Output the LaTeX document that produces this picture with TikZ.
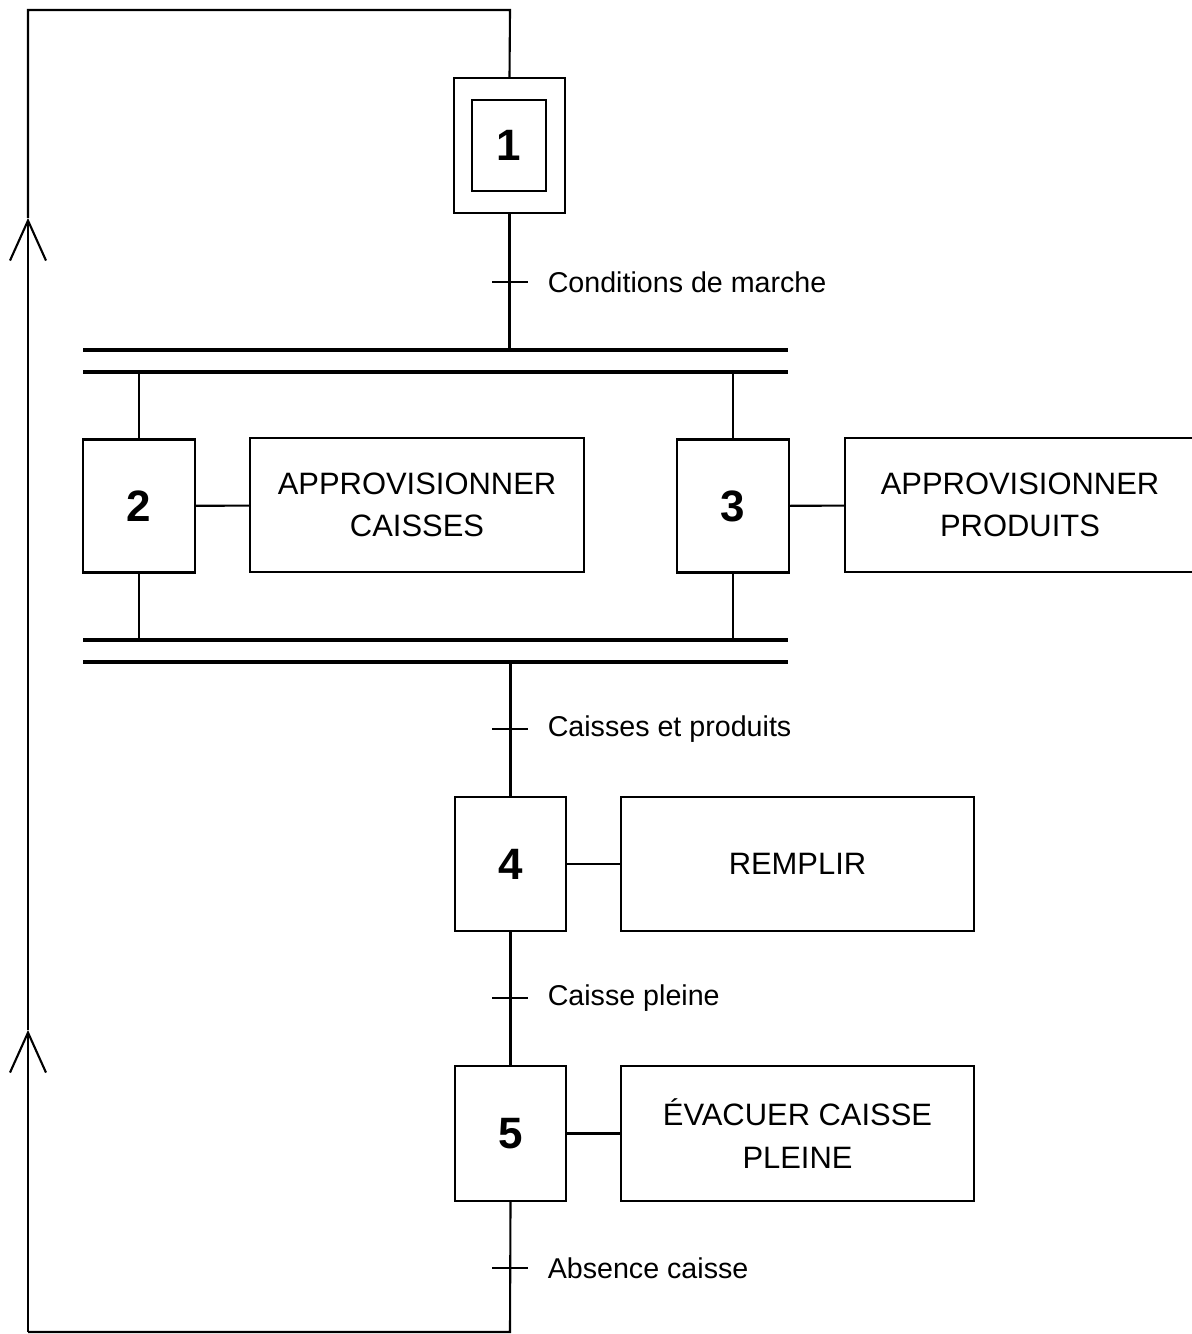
\documentclass[tikz,border=0pt]{standalone}
\usepackage{fontspec}
\setmainfont{Liberation Sans}
\usetikzlibrary{arrows.meta}

\begin{document}
\begin{tikzpicture}[line width=0.6pt,
    etape/.style={draw, minimum width=1.12cm, minimum height=1.33cm, font=\fontsize{12.5}{14}\selectfont\bfseries},
    action/.style={draw, minimum width=3.34cm, minimum height=1.34cm, align=center, font=\fontsize{8.8}{12}\selectfont},
    recept/.style={right=0.25cm, font=\fontsize{8.15}{10}\selectfont},
    fleche/.style={-{Straight Barb[length=4mm, width=3.6mm, line width=0.6pt]}}]

    \useasboundingbox (0,0) rectangle (11.91,-13.34);

    % ==========================================
    % Initial step 1
    % ==========================================
    \node[draw, minimum width=1.11cm, minimum height=1.35cm] (e1) at (5.095,-1.455) {};
    \node[draw, minimum width=0.74cm, minimum height=0.91cm, font=\fontsize{12.5}{14}\selectfont\bfseries] (e1in) at (5.09,-1.455) {1};

    % Transition 1
    \coordinate (t1) at (5.10,-2.82);
    \draw (t1) +(-0.18,0) -- +(0.18,0);
    \node[recept, anchor=west] at (t1) {Conditions de marche};

    % ==========================================
    % Simultaneous branches (double lines)
    % ==========================================
    \coordinate (divA) at (0.83,-3.50);
    \coordinate (divB) at (0.83,-3.72);
    \coordinate (convA) at (0.83,-6.40);
    \coordinate (convB) at (0.83,-6.62);
    \foreach \c in {divA, divB, convA, convB}
        \draw[line width=0.9pt] (\c) -- ++(7.05,0);

    % Step 2 and its action
    \node[etape] (e2) at (1.39,-5.06) {2};
    \node[action] (a2) at (4.17,-5.05) {APPROVISIONNER\\CAISSES};
    \draw (e2) -- (a2);

    % Step 3 and its action
    \node[etape] (e3) at (7.33,-5.06) {3};
    \node[action, minimum width=3.5cm] (a3) at (10.20,-5.05) {APPROVISIONNER\\PRODUITS};
    \draw (e3) -- (a3);

    % Branch links
    \draw (e1.south) -- (e1.south |- divA);
    \draw (e2.north) -- (e2.north |- divB);
    \draw (e3.north) -- (e3.north |- divB);
    \draw (e2.south) -- (e2.south |- convA);
    \draw (e3.south) -- (e3.south |- convA);

    % Transition 2
    \coordinate (t2) at (5.10,-7.29);
    \draw (t2) +(-0.18,0) -- +(0.18,0);
    \node[recept, anchor=west] at (t2) {Caisses et produits};

    % ==========================================
    % Steps 4 and 5
    % ==========================================
    \node[etape, minimum width=1.11cm, minimum height=1.34cm] (e4) at (5.105,-8.64) {4};
    \node[action, minimum width=3.53cm] (a4) at (7.975,-8.64) {REMPLIR};
    \draw (e4) -- (a4);
    \draw (e4.north |- convB) -- (e4.north);

    % Transition 3
    \coordinate (t3) at (5.10,-9.98);
    \draw (t3) +(-0.18,0) -- +(0.18,0);
    \node[recept, anchor=west] at (t3) {Caisse pleine};

    \node[etape, minimum width=1.11cm, minimum height=1.35cm] (e5) at (5.105,-11.335) {5};
    \node[action, minimum width=3.53cm, minimum height=1.35cm] (a5) at (7.975,-11.335) {ÉVACUER CAISSE\\PLEINE};
    \draw (e5) -- (a5);
    \draw (e4.south) -- (e5.north);

    % Transition 4
    \coordinate (t4) at (5.10,-12.68);
    \draw (t4) +(-0.18,0) -- +(0.18,0);
    \node[recept, anchor=west] at (t4) {Absence caisse};

    % ==========================================
    % Return loop to step 1
    % ==========================================
    \coordinate (boucleB) at (5.10,-13.32);
    \coordinate (boucleG) at (0.28,-13.32);
    \coordinate (fl2) at (0.28,-10.30);
    \coordinate (fl1) at (0.28,-2.18);
    \coordinate (boucleH) at (0.28,-0.10);
    \coordinate (coinH) at (5.10,-0.10);
    \draw (e5.south) -- (boucleB) -- (boucleG);
    \draw[fleche] (boucleG) -- (fl2);
    \draw[fleche] (fl2) -- (fl1);
    \draw (fl1) -- (boucleH) -- (coinH) -- (e1.north);

\end{tikzpicture}
\end{document}
